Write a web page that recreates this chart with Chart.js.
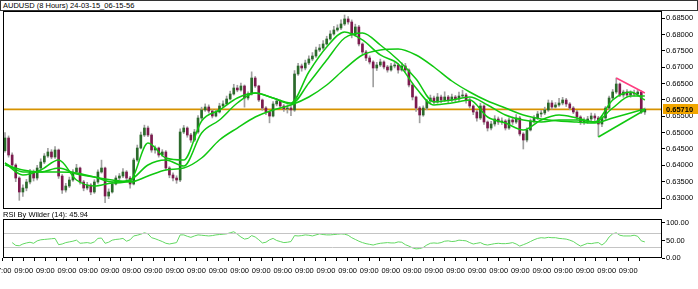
<!DOCTYPE html>
<html>
<head>
<meta charset="utf-8">
<script src="https://cdn.jsdelivr.net/npm/chart.js@4.4.1/dist/chart.umd.min.js"></script>
<style>
  body { margin: 0; background: #fff; }
  #wrap { position: relative; width: 698px; height: 289px; overflow: hidden; background: #fff; }
  #title {
    position: absolute; left: 0; top: 0; width: 694px; height: 9px;
    border: 1px solid #333; padding-left: 2px;
    font: 7.5px 'Liberation Sans', sans-serif;
    line-height: 9px; color: #000; white-space: nowrap;
  }
  canvas { position: absolute; left: 0; }
</style>
</head>
<body>
<div id="wrap">
  <div id="title">AUDUSD (8 Hours) 24-03-15_06-15-56</div>
  <canvas id="main" width="698" height="212" style="top:0"></canvas>
  <canvas id="rsi" width="698" height="77" style="top:212px"></canvas>
</div>
<script>
// 8h candles (close / high / low), open = previous close
const firstOpen = 0.6445;
const closes = [
  0.64836, 0.64316, 0.64010, 0.63612, 0.63184, 0.63306, 0.63490, 0.63796, 0.63612, 0.63918,
  0.64102, 0.64285, 0.64408, 0.64255, 0.64469, 0.63673, 0.63245, 0.63367, 0.63551, 0.63796,
  0.63918, 0.63490, 0.63306, 0.63398, 0.63184, 0.63490, 0.63796, 0.63918, 0.63061, 0.63184,
  0.63429, 0.63612, 0.63673, 0.63796, 0.63612, 0.63429, 0.64163, 0.64530, 0.64928, 0.65142,
  0.64928, 0.64469, 0.64530, 0.64316, 0.64408, 0.63918, 0.63704, 0.63612, 0.63551, 0.65020,
  0.65142, 0.64928, 0.64775, 0.65020, 0.65448, 0.65693, 0.65785, 0.65662, 0.65509, 0.65632,
  0.65815, 0.65877, 0.66030, 0.66183, 0.66366, 0.66305, 0.66427, 0.66060, 0.66183, 0.66672,
  0.66427, 0.65999, 0.65754, 0.65632, 0.65509, 0.65877, 0.65968, 0.65815, 0.65724, 0.65754,
  0.65693, 0.66795, 0.67039, 0.66978, 0.67131, 0.67254, 0.67345, 0.67529, 0.67590, 0.67713,
  0.67866, 0.68019, 0.68141, 0.68202, 0.68325, 0.68478, 0.68386, 0.67988, 0.68233, 0.67713,
  0.67468, 0.67284, 0.67162, 0.66978, 0.67070, 0.67162, 0.67009, 0.66917, 0.67039, 0.67070,
  0.66917, 0.67039, 0.66917, 0.66458, 0.66091, 0.65754, 0.65540, 0.65754, 0.65968, 0.66060,
  0.65938, 0.66091, 0.65999, 0.66091, 0.65999, 0.66091, 0.66030, 0.66121, 0.66152, 0.65999,
  0.65815, 0.65632, 0.65448, 0.65815, 0.65326, 0.65142, 0.65265, 0.65418, 0.65326, 0.65356,
  0.65142, 0.65387, 0.65326, 0.65448, 0.64959, 0.64775, 0.65081, 0.65356, 0.65448, 0.65571,
  0.65601, 0.65693, 0.65907, 0.65785, 0.65846, 0.65907, 0.65999, 0.65877, 0.65754, 0.65632,
  0.65479, 0.65326, 0.65356, 0.65418, 0.65509, 0.65448, 0.65265, 0.65448, 0.65754, 0.66060,
  0.66244, 0.66489, 0.66152, 0.66244, 0.66152, 0.66213, 0.66183, 0.66244, 0.65632, 0.65710
];
const highs = [
  0.6500, 0.6490, 0.6438, 0.6405, 0.6365, 0.6340, 0.6357, 0.6388, 0.6386, 0.6400,
  0.6420, 0.6436, 0.6452, 0.6448, 0.6457, 0.6450, 0.6372, 0.6345, 0.6364, 0.6387,
  0.6403, 0.6395, 0.6354, 0.6348, 0.6344, 0.6356, 0.6386, 0.6416, 0.6395, 0.6328,
  0.6350, 0.6368, 0.6375, 0.6390, 0.6384, 0.6366, 0.6422, 0.6462, 0.6502, 0.6523,
  0.6520, 0.6497, 0.6460, 0.6456, 0.6448, 0.6445, 0.6396, 0.6377, 0.6368, 0.6512,
  0.6522, 0.6518, 0.6498, 0.6510, 0.6552, 0.6578, 0.6588, 0.6585, 0.6570, 0.6570,
  0.6590, 0.6597, 0.6612, 0.6627, 0.6648, 0.6645, 0.6652, 0.6646, 0.6625, 0.6686,
  0.6672, 0.6645, 0.6603, 0.6580, 0.6566, 0.6595, 0.6604, 0.6600, 0.6586, 0.6585,
  0.6582, 0.6690, 0.6712, 0.6710, 0.6722, 0.6735, 0.6745, 0.6762, 0.6770, 0.6782,
  0.6795, 0.6812, 0.6825, 0.6830, 0.6845, 0.6860, 0.6855, 0.6845, 0.6832, 0.6828,
  0.6775, 0.6752, 0.6735, 0.6720, 0.6715, 0.6725, 0.6720, 0.6706, 0.6712, 0.6715,
  0.6712, 0.6714, 0.6712, 0.6695, 0.6650, 0.6612, 0.6580, 0.6582, 0.6602, 0.6615,
  0.6612, 0.6620, 0.6615, 0.6625, 0.6614, 0.6618, 0.6614, 0.6624, 0.6630, 0.6620,
  0.6605, 0.6585, 0.6568, 0.6590, 0.6585, 0.6536, 0.6535, 0.6552, 0.6548, 0.6545,
  0.6540, 0.6545, 0.6548, 0.6555, 0.6550, 0.6500, 0.6515, 0.6542, 0.6552, 0.6565,
  0.6568, 0.6578, 0.6600, 0.6598, 0.6592, 0.6605, 0.6608, 0.6605, 0.6592, 0.6580,
  0.6568, 0.6552, 0.6545, 0.6550, 0.6560, 0.6558, 0.6550, 0.6552, 0.6580, 0.6612,
  0.6632, 0.6667, 0.6652, 0.6630, 0.6632, 0.6628, 0.6630, 0.6632, 0.6628, 0.6575
];
const lows = [
  0.6440, 0.6425, 0.6392, 0.6350, 0.6293, 0.6305, 0.6322, 0.6343, 0.6352, 0.6355,
  0.6385, 0.6405, 0.6424, 0.6420, 0.6421, 0.6360, 0.6314, 0.6318, 0.6332, 0.6351,
  0.6374, 0.6342, 0.6322, 0.6325, 0.6310, 0.6314, 0.6345, 0.6376, 0.6286, 0.6298,
  0.6315, 0.6340, 0.6356, 0.6362, 0.6355, 0.6330, 0.6340, 0.6412, 0.6450, 0.6488,
  0.6488, 0.6440, 0.6437, 0.6425, 0.6427, 0.6385, 0.6362, 0.6352, 0.6345, 0.6350,
  0.6497, 0.6486, 0.6470, 0.6473, 0.6498, 0.6540, 0.6565, 0.6560, 0.6545, 0.6548,
  0.6560, 0.6578, 0.6585, 0.6600, 0.6615, 0.6625, 0.6627, 0.6578, 0.6600, 0.6615,
  0.6638, 0.6595, 0.6568, 0.6555, 0.6530, 0.6548, 0.6582, 0.6575, 0.6565, 0.6560,
  0.6552, 0.6565, 0.6675, 0.6688, 0.6692, 0.6708, 0.6720, 0.6730, 0.6748, 0.6755,
  0.6768, 0.6783, 0.6798, 0.6810, 0.6815, 0.6828, 0.6832, 0.6790, 0.6795, 0.6765,
  0.6740, 0.6720, 0.6710, 0.6640, 0.6690, 0.6702, 0.6695, 0.6685, 0.6688, 0.6698,
  0.6682, 0.6688, 0.6685, 0.6640, 0.6600, 0.6565, 0.6530, 0.6550, 0.6570, 0.6590,
  0.6588, 0.6590, 0.6592, 0.6595, 0.6590, 0.6595, 0.6595, 0.6598, 0.6608, 0.6590,
  0.6575, 0.6555, 0.6535, 0.6540, 0.6525, 0.6505, 0.6508, 0.6520, 0.6525, 0.6525,
  0.6508, 0.6510, 0.6525, 0.6528, 0.6490, 0.6450, 0.6472, 0.6505, 0.6530, 0.6540,
  0.6548, 0.6555, 0.6565, 0.6572, 0.6575, 0.6580, 0.6585, 0.6580, 0.6570, 0.6558,
  0.6540, 0.6525, 0.6525, 0.6528, 0.6535, 0.6535, 0.6488, 0.6518, 0.6540, 0.6570,
  0.6600, 0.6620, 0.6610, 0.6608, 0.6610, 0.6608, 0.6612, 0.6612, 0.6558, 0.6556
];

// moving averages, read every 5th candle
const maIdx = [0, 5, 10, 15, 20, 25, 30, 35, 40, 45, 50, 55, 60, 65, 70, 75, 80, 85, 90,
  95, 100, 105, 110, 115, 120, 125, 130, 135, 140, 145, 150, 155, 160, 165, 170, 175, 179];
const maFast = [0.64071, 0.63704, 0.63857, 0.64163, 0.63551, 0.63367, 0.63459, 0.63520, 0.64683, 0.64224,
  0.64163, 0.65356, 0.65693, 0.66060, 0.66213, 0.66060, 0.65907, 0.66856, 0.67621, 0.68080,
  0.67835, 0.67376, 0.67101, 0.66366, 0.65846, 0.65907, 0.65999, 0.65479, 0.65295, 0.65081,
  0.65387, 0.65540, 0.65448, 0.65326, 0.65999, 0.66244, 0.65999];
const maMid = [0.64071, 0.63796, 0.63796, 0.63918, 0.63735, 0.63643, 0.63490, 0.63551, 0.64010, 0.64163,
  0.63979, 0.64989, 0.65387, 0.65907, 0.66213, 0.66060, 0.65877, 0.66519, 0.67223, 0.67896,
  0.68049, 0.67682, 0.67223, 0.66642, 0.65938, 0.65999, 0.66091, 0.65846, 0.65540, 0.65387,
  0.65326, 0.65387, 0.65387, 0.65326, 0.65754, 0.66121, 0.66121];
const maSlow = [0.64010, 0.63857, 0.63796, 0.63796, 0.63765, 0.63643, 0.63551, 0.63490, 0.63673, 0.63857,
  0.63918, 0.64224, 0.64775, 0.65142, 0.65479, 0.65693, 0.65846, 0.66091, 0.66458, 0.66948,
  0.67376, 0.67529, 0.67560, 0.67376, 0.67009, 0.66580, 0.66244, 0.65968, 0.65754, 0.65540,
  0.65418, 0.65356, 0.65326, 0.65295, 0.65448, 0.65601, 0.65724];

// drawn trend lines [candle, price]
const supportLine = [[166, 0.64867], [179, 0.65693]];
const resistLine = [[171, 0.66672], [179, 0.66213]];
const lastPrice = 0.65710;

const rsi = [
  null, null, 44, 36, 35, 40, 43, 45, 42, 49,
  52, 53, 54, 55, 56, 38, 40, 44, 46, 48,
  51, 42, 43, 44, 42, 46, 56, 57, 42, 45,
  51, 53, 54, 56, 48, 52, 63, 65, 68, 72,
  69, 58, 55, 51, 47, 42, 40, 42, 44, 66,
  66, 62, 59, 63, 66, 65, 64, 63, 64, 66,
  67, 68, 69, 72, 75, 68, 60, 54, 56, 64,
  60, 52, 43, 45, 52, 56, 50, 47, 44, 45,
  47, 64, 63, 64, 66, 65, 63, 66, 69, 67,
  66, 66, 67, 68, 69, 68, 65, 58, 53, 48,
  44, 41, 39, 37, 40, 42, 43, 44, 43, 43,
  46, 45, 38, 34, 29, 26, 27, 30, 37, 42,
  43, 42, 44, 48, 49, 47, 48, 51, 50, 49,
  44, 40, 42, 44, 39, 37, 39, 41, 42, 41,
  41, 42, 44, 40, 34, 38, 42, 47, 52, 56,
  58, 57, 59, 58, 58, 56, 55, 54, 51, 47,
  40, 34, 38, 42, 41, 43, 44, 37, 45, 60,
  69, 72, 65, 63, 63, 63, 65, 62, 49, 45.94
];

const priceTicks = [0.630, 0.635, 0.640, 0.645, 0.650, 0.655, 0.660, 0.665, 0.670, 0.675, 0.680, 0.685];
const rsiTicks = [0, 50, 100];
const rsiLevels = [70, 30];
const xLabels = ['07:00'].concat(new Array(29).fill('09:00'));
const labelStart = -0.8, labelStep = 6.04; // one label every 2 days (6 bars)

const FONT = "'Liberation Sans', sans-serif";
Chart.defaults.font.family = FONT;
Chart.defaults.color = '#000';

const xMin = -0.56, xMax = 183.8;
const yMin = 0.62664, yMax = 0.68722;

const idx = closes.map((c, i) => i);
const opens = closes.map((c, i) => i === 0 ? firstOpen : closes[i - 1]);
const upColor = '#2b6a2b', downColor = '#7c1a4e', wickColor = '#a0a0a0';
const maColor = '#10c810';

function maData(vals) {
    return maIdx.map((x, k) => ({ x: x, y: vals[k] }));
}
function lineDs(data, color, width, order, tension) {
    return {
        type: 'line', data: data, borderColor: color, borderWidth: width,
        pointRadius: 0, tension: tension || 0, cubicInterpolationMode: 'monotone', order: order
    };
}

const boxPlugin = {
    id: 'box',
    afterDraw(chart) {
        const ctx = chart.ctx;
        const a = chart.chartArea;
        ctx.save();
        if (chart.canvas.id === 'rsi') {
            const y = chart.scales.y;
            ctx.strokeStyle = '#c4c4c4';
            ctx.lineWidth = 1;
            rsiLevels.forEach(v => {
                const py = Math.round(y.getPixelForValue(v)) + 0.5;
                ctx.beginPath();
                ctx.moveTo(a.left, py);
                ctx.lineTo(a.right, py);
                ctx.stroke();
            });
            ctx.fillStyle = '#000';
            ctx.font = "7.5px " + FONT;
            ctx.textBaseline = 'middle';
            ctx.fillText('RSI By Wilder (14): ' + rsi[rsi.length - 1].toFixed(2), 3, 3);
        }
        ctx.strokeStyle = '#000';
        ctx.lineWidth = 1;
        ctx.strokeRect(Math.round(a.left) + 0.5, Math.round(a.top) + 0.5,
            Math.round(a.right - a.left) - 1, Math.round(a.bottom - a.top) - 1);
        if (chart.canvas.id === 'main') {
            const py = Math.round(chart.scales.y.getPixelForValue(lastPrice));
            ctx.fillStyle = '#f2a600';
            ctx.fillRect(a.right + 1, py - 5, 35, 10);
            ctx.fillStyle = '#000';
            ctx.font = "bold 7.5px " + FONT;
            ctx.textBaseline = 'middle';
            ctx.fillText(lastPrice.toFixed(5), a.right + 4, py + 0.5);
        }
        ctx.restore();
    }
};

new Chart(document.getElementById('main'), {
    type: 'bar',
    data: {
        datasets: [
            lineDs([{ x: xMin, y: lastPrice }, { x: xMax, y: lastPrice }], '#d69200', 1.8, 6),
            {
                label: 'wick', data: idx.map(i => ({ x: i, y: [lows[i], highs[i]] })),
                backgroundColor: wickColor, barThickness: 1, grouped: false, order: 5
            },
            {
                label: 'body', data: idx.map(i => ({ x: i, y: [opens[i], closes[i]] })),
                backgroundColor: idx.map(i => closes[i] >= opens[i] ? upColor : downColor),
                barThickness: 2, grouped: false, minBarLength: 1, order: 4
            },
            lineDs(maData(maSlow), maColor, 1.5, 3, 0.4),
            lineDs(maData(maMid), maColor, 1.5, 3, 0.4),
            lineDs(maData(maFast), maColor, 1.5, 3, 0.4),
            lineDs(supportLine.map(p => ({ x: p[0], y: p[1] })), maColor, 1.5, 1),
            lineDs(resistLine.map(p => ({ x: p[0], y: p[1] })), '#ff3d80', 1.5, 1)
        ]
    },
    options: {
        responsive: false,
        animation: false,
        layout: { padding: { left: 3, top: 11, right: 0, bottom: 3 } },
        plugins: { legend: { display: false }, tooltip: { enabled: false } },
        scales: {
            x: { type: 'linear', min: xMin, max: xMax, display: false, offset: false },
            y: {
                position: 'right', min: yMin, max: yMax,
                afterBuildTicks(s) { s.ticks = priceTicks.map(v => ({ value: v })); },
                afterFit(s) { s.width = 36; s.paddingTop = 0; s.paddingBottom = 0; },
                ticks: { callback: v => v.toFixed(5), font: { size: 7.5 }, color: '#000', padding: 1 },
                grid: { drawOnChartArea: false, tickLength: 3, color: '#000' },
                border: { display: false }
            }
        }
    },
    plugins: [boxPlugin]
});

new Chart(document.getElementById('rsi'), {
    type: 'line',
    data: {
        datasets: [{
            data: idx.map(i => ({ x: i, y: rsi[i] })),
            borderColor: '#62d862', borderWidth: 1, pointRadius: 0, tension: 0
        }]
    },
    options: {
        responsive: false,
        animation: false,
        layout: { padding: { left: 3, top: 7, right: 0, bottom: 0 } },
        plugins: { legend: { display: false }, tooltip: { enabled: false } },
        scales: {
            x: {
                type: 'linear', min: xMin, max: xMax,
                afterBuildTicks(s) {
                    const t = [];
                    xLabels.forEach((l, k) => {
                        t.push({ value: labelStart + k * labelStep });
                        t.push({ value: labelStart + (k + 0.5) * labelStep });
                    });
                    s.ticks = t;
                },
                afterFit(s) { s.height = 31; s.paddingLeft = 0; s.paddingRight = 0; },
                ticks: {
                    autoSkip: false, maxRotation: 0, font: { size: 7.5 }, color: '#000', padding: 5,
                    callback: (v, k) => k % 2 === 0 ? xLabels[k / 2] : ''
                },
                grid: { drawOnChartArea: false, tickLength: 3, color: '#000' },
                border: { display: false }
            },
            y: {
                position: 'right', min: 0, max: 111.4,
                afterBuildTicks(s) { s.ticks = rsiTicks.map(v => ({ value: v })); },
                afterFit(s) { s.width = 36; s.paddingTop = 0; s.paddingBottom = 0; },
                ticks: { callback: v => v.toFixed(2), font: { size: 7.5 }, color: '#000', padding: 1 },
                grid: { drawOnChartArea: false, tickLength: 3, color: '#000' },
                border: { display: false }
            }
        }
    },
    plugins: [boxPlugin]
});
</script>
</body>
</html>
